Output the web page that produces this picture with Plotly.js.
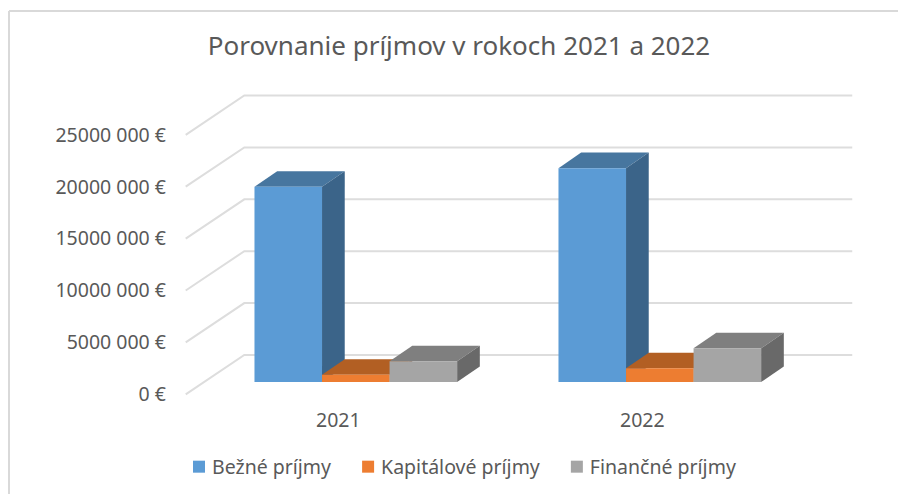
<!DOCTYPE html>
<html><head><meta charset="utf-8">
<script src="https://cdn.plot.ly/plotly-3.0.0.min.js"></script>
<style>html,body{margin:0;padding:0;background:#fff;overflow:hidden}#c{width:898px;height:494px}</style>
</head><body><div id="c"></div>
<script>
const categories = [0, 1];
const tickLabelsX = ['2021', '2022'];
const bezne = [18800000, 20600000];
const kapitalove = [700000, 1320000];
const financne = [2000000, 3250000];
const yTickValues = [0, 5000000, 10000000, 15000000, 20000000, 25000000];
const yTickLabels = ['0 €', '5000 000 €', '10000 000 €', '15000 000 €', '20000 000 €', '25000 000 €'];

// Plot box in pixels
const W = 898, H = 494, L = 185, R = 853, T = 90, B = 400;
const pxPerCat = 304, pxPerUnit = 259.5 / 25000000, zeroX = 355.8, zeroY = 382;
const xRange = [(L - zeroX) / pxPerCat, (R - zeroX) / pxPerCat];
const yRange = [(zeroY - B) / pxPerUnit, (zeroY - T) / pxPerUnit];

// Pseudo-3D geometry in data units
const barDX = 22.7 / pxPerCat, barDY = 15.6 / pxPerUnit, barW = 0.2222;
const wallFrontX = -0.5595, wallBackX = -0.3668, wallRightX = 1.633;
const wallFrontY = -12.3 / pxPerUnit, wallBackY = 27 / pxPerUnit;
const xLabelShift = -0.0576;

const series = [
  {name: 'Bežné príjmy', values: bezne, front: '#5B9BD5', top: '#47769F', side: '#3B6489', slot: -1},
  {name: 'Kapitálové príjmy', values: kapitalove, front: '#ED7D31', top: '#B25F23', side: '#8E4C1C', slot: 0},
  {name: 'Finančné príjmy', values: financne, front: '#A5A5A5', top: '#7F7F7F', side: '#696969', slot: 1}
];

const poly = (pts, fill) => ({
  type: 'path', xref: 'x', yref: 'y', layer: 'below',
  path: 'M' + pts.map(p => p[0] + ',' + p[1]).join(' L') + ' Z',
  fillcolor: fill, line: {width: 0}
});

const shapes = [];
yTickValues.forEach(v => {
  shapes.push({
    type: 'path', xref: 'x', yref: 'y', layer: 'below',
    path: `M${wallFrontX},${v + wallFrontY} L${wallBackX},${v + wallBackY} L${wallRightX},${v + wallBackY}`,
    line: {color: '#DDDDDD', width: 2}
  });
});
series.forEach(s => {
  categories.forEach((c, i) => {
    const x0 = c + s.slot * barW - barW / 2, x1 = x0 + barW, v = s.values[i];
    shapes.push(poly([[x0, v], [x0 + barDX, v + barDY], [x1 + barDX, v + barDY], [x1, v]], s.top));
    shapes.push(poly([[x1, 0], [x1 + barDX, barDY], [x1 + barDX, v + barDY], [x1, v]], s.side));
  });
});
// Outer chart frame
const px = x => (x - L) / (R - L), py = y => (B - y) / (B - T);
const frame = {color: '#D9D9D9', width: 2};
shapes.push({type: 'line', xref: 'paper', yref: 'paper', x0: px(9), x1: px(9), y0: py(11), y1: py(494), line: frame});
shapes.push({type: 'line', xref: 'paper', yref: 'paper', x0: px(9), x1: px(898), y0: py(11), y1: py(11), line: frame});

const textColor = '#595959';
const fontFamily = '"Noto Sans", sans-serif';
const data = series.map(s => ({
  type: 'bar', name: s.name, x: categories, y: s.values,
  marker: {color: s.front, line: {width: 0}}
}));

const layout = {
  width: W, height: H,
  margin: {l: L, r: W - R, t: T, b: H - B, pad: 0},
  paper_bgcolor: '#FFFFFF', plot_bgcolor: 'rgba(0,0,0,0)',
  barmode: 'group', bargap: 1 - 3 * barW, bargroupgap: 0,
  title: {text: 'Porovnanie príjmov v rokoch 2021 a 2022',
    font: {family: fontFamily, size: 26, color: textColor},
    x: 459 / W, xanchor: 'center', y: 1 - 46 / H, yanchor: 'middle'},
  xaxis: {type: 'linear', range: xRange, showgrid: false, zeroline: false, showline: false, ticks: '',
    tickmode: 'array', tickvals: categories.map(c => c + xLabelShift), ticktext: tickLabelsX,
    ticklabelstandoff: 6, tickfont: {family: fontFamily, size: 19.5, color: textColor}},
  yaxis: {type: 'linear', range: yRange, showgrid: false, zeroline: false, showline: false, ticks: '',
    tickmode: 'array', tickvals: yTickValues.map(v => v + wallFrontY), ticktext: yTickLabels,
    ticklabelstandoff: 18, tickfont: {family: fontFamily, size: 19.5, color: textColor}},
  shapes: shapes,
  showlegend: true,
  legend: {orientation: 'h', xref: 'container', yref: 'container', x: 172 / W, xanchor: 'left', y: 1 - 467 / H, yanchor: 'middle',
    traceorder: 'normal', font: {family: fontFamily, size: 19.5, color: textColor},
    itemclick: false, itemdoubleclick: false}
};
Plotly.newPlot('c', data, layout, {displayModeBar: false, responsive: false}).then(() => {
  // Legend swatches sit closer to their text, and entries further apart, than Plotly's defaults allow
  document.querySelectorAll('#c .legendsymbols').forEach(g => g.setAttribute('transform', 'translate(7,0)'));
  document.querySelectorAll('#c .legend .traces').forEach((g, i) => {
    const m = /translate\(([-\d.]+)[ ,]*([-\d.]*)\)/.exec(g.getAttribute('transform') || '');
    if (m) g.setAttribute('transform', `translate(${parseFloat(m[1]) + 5 * i},${parseFloat(m[2] || 0)})`);
  });
  document.querySelectorAll('#c .legend [clip-path]').forEach(g => g.removeAttribute('clip-path'));
});
</script></body></html>
